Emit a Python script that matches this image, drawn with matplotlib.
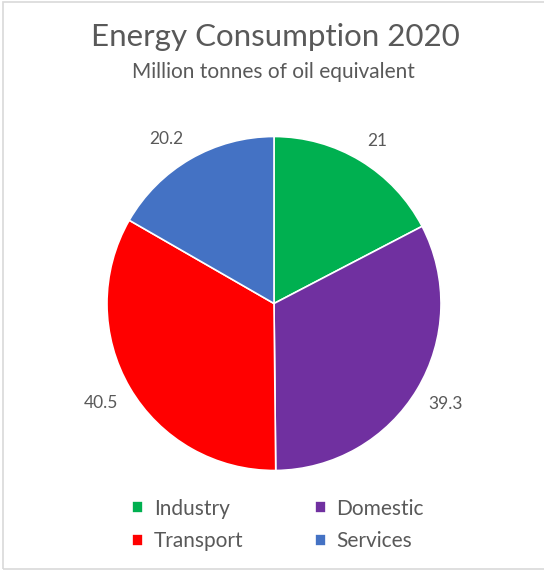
import matplotlib
matplotlib.use("Agg")
import matplotlib.pyplot as plt
from matplotlib.patches import Rectangle

# Energy consumption by sector, 2020 (million tonnes of oil equivalent)
sectors = ["Industry", "Domestic", "Transport", "Services"]
consumption = [21, 39.3, 40.5, 20.2]
value_labels = ["21", "39.3", "40.5", "20.2"]
colors = ["#00B050", "#7030A0", "#FF0000", "#4472C4"]

title = "Energy Consumption 2020"
subtitle = "Million tonnes of oil equivalent"

text_color = "#595959"
plt.rcParams["font.family"] = ["Lato", "DejaVu Sans"]

W, H, DPI = 544, 571, 100
fig = plt.figure(figsize=(W / DPI, H / DPI), dpi=DPI)
fig.patch.set_facecolor("white")

# chart-area frame (open on the right)
fig.patches.append(Rectangle((3 / W, 2 / H), 600 / W, 567 / H,
                             transform=fig.transFigure, fill=False,
                             edgecolor="#d9d9d9", linewidth=1.2))

# pie axes: centre at (274, 303.5) px, radius 167 px
R = 167
lim = 1.4
side = 2 * lim * R
cx, cy = 274, H - 303.5
ax = fig.add_axes([(cx - side / 2) / W, (cy - side / 2) / H, side / W, side / H])

wedges, texts = ax.pie(consumption, labels=value_labels, colors=colors,
                       startangle=90, counterclock=False, labeldistance=1.08,
                       wedgeprops=dict(edgecolor="white", linewidth=1.2))
# outside-end labels: anchor the corner of each label box nearest the pie
for t in texts:
    x, y = t.get_position()
    t.set_ha("left" if x > 0 else "right")
    t.set_va("bottom" if y > 0 else "top")
    t.set_fontsize(12.5)
    t.set_color(text_color)
ax.set_xlim(-lim, lim)
ax.set_ylim(-lim, lim)
ax.axis("off")

fig.text(275 / W, 1 - 37 / H, title, ha="center", va="center",
         fontsize=22.5, color=text_color)
fig.text(273 / W, 1 - 72 / H, subtitle, ha="center", va="center",
         fontsize=15, color=text_color)

# legend laid out row by row: Industry, Domestic / Transport, Services
order = [0, 2, 1, 3]
fig.legend([wedges[i] for i in order], [sectors[i] for i in order],
           ncol=2, loc="center", frameon=False,
           bbox_to_anchor=(278 / W, 1 - 525 / H), fontsize=15,
           labelcolor=text_color, handlelength=0.55, handleheight=0.55,
           handletextpad=0.5, columnspacing=3.42, labelspacing=0.62)

fig.savefig("out.png", dpi=DPI, facecolor="white")
